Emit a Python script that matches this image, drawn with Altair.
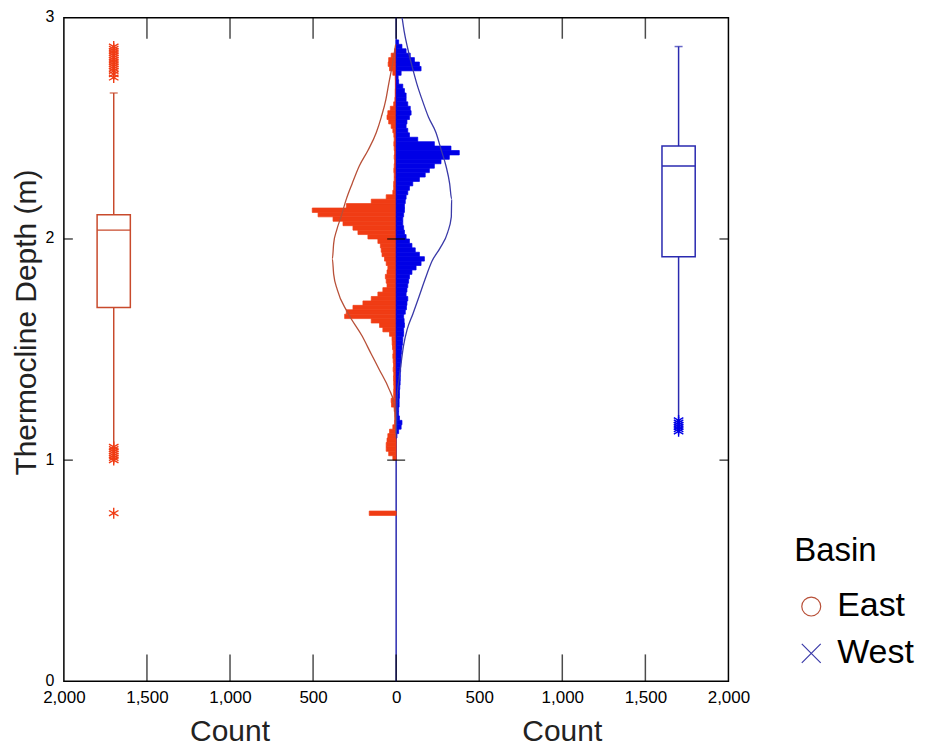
import altair as alt
import pandas as pd

# ---------------- data ----------------
BIN_W = 0.02
bin_lo = [round(1.00 + BIN_W * i, 2) for i in range(95)]  # 1.00 ... 2.88

east_counts = [
    20, 45, 60, 60, 55, 50, 40, 20, 10, 8,          # 1.00-1.18
    8, 12, 28, 30, 15, 15, 14, 15, 16, 15,          # 1.20-1.38
    18, 16, 18, 20, 18, 22, 24, 25, 40, 80,         # 1.40-1.58
    100, 150, 310, 300, 260, 200, 150, 110, 80, 55, # 1.60-1.78
    60, 65, 55, 50, 60, 70, 85, 90, 95, 110,        # 1.80-1.98
    170, 230, 260, 320, 380, 470, 505, 300, 150, 60,# 2.00-2.18
    20, 15, 15, 12, 12, 14, 12, 10, 12, 10,         # 2.20-2.38
    12, 14, 12, 14, 20, 30, 45, 55, 50, 35,         # 2.40-2.58
    15, 8, 6, 6, 5, 5, 6, 20, 40, 48,               # 2.60-2.78
    45, 30, 10, 0, 0,                               # 2.80-2.88
]
west_counts = [
    0, 0, 0, 0, 0, 5, 15, 30, 35, 20,
    15, 15, 18, 18, 20, 20, 22, 24, 25, 25,
    27, 28, 30, 30, 32, 35, 38, 40, 45, 45,
    50, 48, 45, 55, 62, 65, 70, 60, 65, 70,
    75, 80, 95, 120, 150, 170, 140, 115, 95, 80,
    60, 50, 45, 40, 40, 45, 50, 50, 55, 60,
    70, 80, 100, 140, 175, 200, 230, 270, 320, 380,
    330, 230, 130, 80, 70, 60, 65, 80, 90, 85,
    70, 60, 60, 50, 40, 15, 12, 30, 150, 140,
    110, 85, 60, 35, 15,
]
east_extra_lo = [0.75]
east_extra_count = [162]

east_curve_depth = [2.88, 2.80, 2.70, 2.63, 2.55, 2.48, 2.40, 2.33, 2.25, 2.18, 2.10, 2.04,
                    1.98, 1.91, 1.84, 1.77, 1.67, 1.56, 1.48, 1.41, 1.32, 1.26, 1.18, 1.10]
east_curve_count = [3, 20, 45, 62, 90, 120, 170, 222, 265, 300, 332, 358,
                    376, 384, 376, 354, 294, 204, 150, 102, 42, 14, 5, 2]
west_curve_depth = [3.06, 3.00, 2.94, 2.86, 2.78, 2.70, 2.63, 2.55, 2.48, 2.40, 2.33, 2.25, 2.18,
                    2.10, 2.03, 1.96, 1.90, 1.82, 1.74, 1.66, 1.59, 1.52, 1.44, 1.36, 1.29,
                    1.20, 1.12]
west_curve_count = [25, 36, 48, 70, 96, 125, 156, 195, 240, 272, 300, 322, 334,
                    332, 310, 265, 216, 175, 138, 100, 66, 45, 30, 16, 6, 3, 1]

basins = ["East", "West"]
box_q1 = [1.69, 1.92]
box_median = [2.04, 2.33]
box_q3 = [2.11, 2.42]
whisker_lo = [1.07, 1.19]
whisker_hi = [2.66, 2.87]
east_outliers = [2.73, 2.745, 2.76, 2.77, 2.78, 2.79, 2.80, 2.81, 2.82, 2.83, 2.84, 2.85, 2.86, 2.87,
                 1.00, 1.01, 1.02, 1.03, 1.04, 1.05, 1.06, 0.76]
west_outliers = [1.13, 1.14, 1.15, 1.16, 1.17, 1.18]

x_tick_values = [-2000, -1500, -1000, -500, 0, 500, 1000, 1500, 2000]
y_tick_values = [0, 1, 2, 3]

# ---------------- styling ----------------
W, H = 666, 665
BOX_POS = {"East": -1700, "West": 1700}
BOX_HALF = 100
SIGN = {"East": -1, "West": 1}
HIST_COL = {"East": "#F03C14", "West": "#0000E6"}
LINE_COL = {"East": "#C84A2C", "West": "#2A2AB0"}
CURVE_COL = {"East": "#B85038", "West": "#3A3AA8"}
TICK_FONT = "Liberation Sans Narrow, Liberation Sans, Arial, sans-serif"
TITLE_FONT = "Liberation Sans, Arial, sans-serif"
ASTERISK = "M0,-1L0,1M-0.87,-0.5L0.87,0.5M-0.87,0.5L0.87,-0.5"

XS = alt.Scale(domain=[-2000, 2000], nice=False, zero=False)
YS = alt.Scale(domain=[0, 3], nice=False, zero=False)
XA = alt.Axis(values=x_tick_values, labelExpr="format(abs(datum.value), ',')", ticks=False,
              domain=False, grid=False, title=None, labelFont=TICK_FONT, labelFontSize=17,
              labelColor="black", labelPadding=8, labelFlush=False)
YA = alt.Axis(values=y_tick_values, ticks=False, domain=False, grid=False,
              title="Thermocline Depth (m)", titleFont=TITLE_FONT, titleFontSize=30,
              titleFontWeight="normal", titleColor="#222", titlePadding=4, titleY=305,
              labelFont=TICK_FONT, labelFontSize=16, labelColor="black", labelPadding=10,
              labelOffset=-1)


def X(field):
    return alt.X(field, type="quantitative", scale=XS, axis=XA)


def Y(field):
    return alt.Y(field, type="quantitative", scale=YS, axis=YA)


layers = []

# centre line
layers.append(alt.Chart(pd.DataFrame({"x": [0]})).mark_rule(color="#2A2AB0", strokeWidth=1.5)
              .encode(x=X("x")))

# histograms
for b, counts in (("East", east_counts), ("West", west_counts)):
    lo = list(bin_lo)
    cnt = list(counts)
    if b == "East":
        lo += east_extra_lo
        cnt += east_extra_count
    df = pd.DataFrame({"lo": lo, "hi": [round(v + BIN_W, 3) for v in lo],
                       "x0": 0, "x1": [SIGN[b] * c for c in cnt]})
    df = df[df["x1"] != 0]
    layers.append(alt.Chart(df).mark_rect(color=HIST_COL[b], stroke=HIST_COL[b], strokeWidth=0.7)
                  .encode(x=X("x0"), x2="x1", y=Y("lo"), y2="hi"))

# fitted curves
for b, d, c in (("East", east_curve_depth, east_curve_count),
                ("West", west_curve_depth, west_curve_count)):
    df = pd.DataFrame({"d": d, "c": [SIGN[b] * v for v in c], "o": list(range(len(d)))})
    layers.append(alt.Chart(df).mark_line(color=CURVE_COL[b], strokeWidth=1.3, clip=True,
                                          interpolate="monotone")
                  .encode(x=X("c"), y=Y("d"), order="o:Q"))

# box plots
for i, b in enumerate(basins):
    c = BOX_POS[b]
    box = pd.DataFrame({"l": [c - BOX_HALF], "r": [c + BOX_HALF], "c": [c],
                        "q1": [box_q1[i]], "q3": [box_q3[i]], "med": [box_median[i]],
                        "wl": [whisker_lo[i]], "wh": [whisker_hi[i]]})
    base = alt.Chart(box)
    layers.append(base.mark_rule(color=LINE_COL[b], strokeWidth=1.5)
                  .encode(x=X("c"), y=Y("q3"), y2="wh"))
    layers.append(base.mark_rule(color=LINE_COL[b], strokeWidth=1.5)
                  .encode(x=X("c"), y=Y("wl"), y2="q1"))
    layers.append(base.mark_rect(fillOpacity=0, stroke=LINE_COL[b], strokeWidth=1.5)
                  .encode(x=X("l"), x2="r", y=Y("q1"), y2="q3"))
    layers.append(base.mark_rule(color=LINE_COL[b], strokeWidth=1.5)
                  .encode(x=X("l"), x2="r", y=Y("med")))
    layers.append(base.mark_tick(color=LINE_COL[b], orient="horizontal", size=8, thickness=1.5)
                  .encode(x=X("c"), y=Y("wh")))
    outs = east_outliers if b == "East" else west_outliers
    odf = pd.DataFrame({"c": c, "v": outs})
    layers.append(alt.Chart(odf).mark_point(shape=ASTERISK, filled=False, size=120, strokeWidth=1.4,
                                            color=HIST_COL[b], opacity=1)
                  .encode(x=X("c"), y=Y("v")))

# inward ticks of the frame
xt = pd.DataFrame({"v": [v for v in x_tick_values if abs(v) < 2000]})
yt = pd.DataFrame({"v": [v for v in y_tick_values if 0 < v < 3]})
layers.append(alt.Chart(xt).mark_tick(orient="vertical", size=21, thickness=1.5, color="black")
              .encode(x=X("v"), y=alt.value(10.5)))
layers.append(alt.Chart(xt).mark_tick(orient="vertical", size=27, thickness=1.5, color="black")
              .encode(x=X("v"), y=alt.value(H - 13.5)))
layers.append(alt.Chart(yt).mark_tick(orient="horizontal", size=9, thickness=1.5, color="black")
              .encode(y=Y("v"), x=alt.value(4.5)))
layers.append(alt.Chart(yt).mark_tick(orient="horizontal", size=9, thickness=1.5, color="black")
              .encode(y=Y("v"), x=alt.value(W - 4.5)))
yt["z"] = 0
layers.append(alt.Chart(yt).mark_tick(orient="horizontal", size=18, thickness=1.5, color="black")
              .encode(y=Y("v"), x=X("z")))

# the two "Count" titles
ct = pd.DataFrame({"x": [-1000, 1000], "t": ["Count", "Count"]})
layers.append(alt.Chart(ct).mark_text(font=TITLE_FONT, fontSize=30, color="#222",
                                      baseline="middle", align="center")
              .encode(x=X("x"), y=alt.value(H + 51), text="t:N"))

# legend carrier
lg = pd.DataFrame({"basin": basins, "x": [0, 0], "y": [0, 0]})
leg = alt.Legend(title="Basin", orient="none", legendX=732, legendY=518,
                 titleFont=TITLE_FONT, titleFontSize=33, titleFontWeight="normal",
                 titleColor="black", labelFont=TITLE_FONT, labelFontSize=34, labelColor="black",
                 symbolSize=360, symbolStrokeWidth=1.2, symbolOpacity=1, rowPadding=13,
                 titlePadding=22, labelOffset=9, padding=0)
layers.append(alt.Chart(lg).mark_point(filled=False, opacity=0)
              .encode(x=X("x"), y=Y("y"),
                      shape=alt.Shape("basin:N", scale=alt.Scale(domain=basins,
                                      range=["circle", "M-1,-1L1,1M-1,1L1,-1"]), legend=leg),
                      color=alt.Color("basin:N", scale=alt.Scale(domain=basins,
                                      range=[CURVE_COL["East"], CURVE_COL["West"]]), legend=leg)))

chart = (alt.layer(*layers)
         .properties(width=W, height=H,
                     autosize=alt.AutoSizeParams(type="none"),
                     padding={"left": 56, "top": 9, "right": 200, "bottom": 70})
         .configure_view(stroke="black", strokeWidth=1.5))

chart.save("out.html", embed_options={"renderer": "svg", "actions": False})
